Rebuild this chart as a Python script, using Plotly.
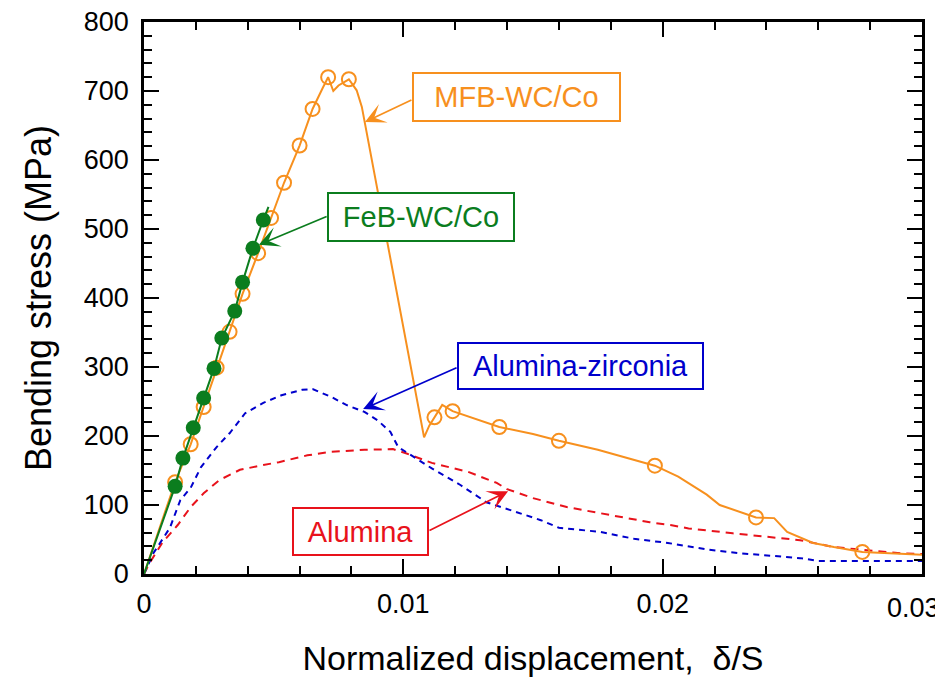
import plotly.graph_objects as go

# ---------------- data ----------------
mfb_x = [0, 0.0006, 0.0012, 0.0018, 0.0023, 0.0028, 0.0033, 0.0038, 0.0044, 0.0049, 0.0054,
         0.0060, 0.0065, 0.0069, 0.0071, 0.0073, 0.0075, 0.0079, 0.0082, 0.0084, 0.0108,
         0.0110, 0.0112, 0.0115, 0.0119, 0.0125, 0.0137, 0.0150, 0.0160, 0.0175, 0.0190,
         0.0197, 0.0206, 0.0217, 0.0222, 0.0230, 0.0236, 0.0243, 0.0248, 0.0258, 0.0266,
         0.0277, 0.0292, 0.0300]
mfb_y = [0, 65, 133, 188, 242, 299, 351, 406, 465, 516, 567,
         621, 674, 705, 720, 700, 708, 717, 701, 677, 198,
         215, 227, 245, 236, 228, 213, 203, 193, 180, 165,
         157, 141, 115, 100, 90, 82, 81, 61, 45, 39,
         32, 30, 28]
mfb_mx = [0.0012, 0.0018, 0.0023, 0.0028, 0.0033, 0.0038, 0.0044, 0.0049, 0.0054, 0.0060,
          0.0065, 0.0071, 0.0079, 0.0112, 0.0119, 0.0137, 0.0160, 0.0197, 0.0236, 0.0277]
mfb_my = [133, 188, 242, 299, 351, 406, 465, 516, 567, 621,
          674, 720, 717, 227, 236, 213, 193, 157, 82, 32]

feb_x = [0, 0.0012, 0.0015, 0.0019, 0.0023, 0.0027, 0.0030, 0.0035, 0.0038, 0.0042, 0.0046, 0.0048]
feb_y = [0, 127, 168, 212, 255, 298, 342, 381, 423, 472, 513, 532]
feb_mx = feb_x[1:-1]
feb_my = feb_y[1:-1]

az_x = [0, 0.00036, 0.0010, 0.0014, 0.0018, 0.0022, 0.0028, 0.0033, 0.0039, 0.0046, 0.0053,
        0.0061, 0.0065, 0.0072, 0.0078, 0.0085, 0.0090, 0.0095, 0.0098, 0.0103, 0.0111,
        0.0122, 0.0132, 0.0141, 0.0153, 0.0160, 0.0176, 0.0189, 0.0202, 0.0218, 0.0230,
        0.0253, 0.0260, 0.0300]
az_y = [0, 30, 67, 107, 125, 155, 184, 204, 233, 248, 259,
        267, 268, 257, 245, 235, 223, 206, 184, 172, 153,
        129, 104, 93, 78, 67, 61, 51, 45, 35, 30,
        23, 19, 19]

al_x = [0, 0.0002, 0.0007, 0.0013, 0.0018, 0.0023, 0.0029, 0.0037, 0.0046, 0.0052, 0.0063,
        0.0072, 0.0085, 0.0096, 0.0101, 0.0111, 0.0125, 0.0136, 0.0140, 0.0150, 0.0163,
        0.0176, 0.0195, 0.0203, 0.0210, 0.0227, 0.0253, 0.0266, 0.0292, 0.0300]
al_y = [0, 15, 45, 71, 97, 117, 136, 151, 158, 162, 172,
        177, 180, 181, 175, 161, 148, 132, 123, 110, 97,
        88, 75, 71, 66, 59, 49, 39, 30, 29]

x_ticks = [0, 0.01, 0.02, 0.03]
x_labels = ["0", "0.01", "0.02", "0.03"]
y_ticks = [0, 100, 200, 300, 400, 500, 600, 700, 800]

ORANGE = "#F7901E"
GREEN = "#0B7D1E"
BLUE = "#0000CC"
RED = "#E8121B"
FONT = "Liberation Sans, Arial, sans-serif"

fig = go.Figure()

fig.add_trace(go.Scatter(x=al_x, y=al_y, mode="lines", name="Alumina",
                         line=dict(color=RED, width=2, dash="8px,6px")))
fig.add_trace(go.Scatter(x=az_x, y=az_y, mode="lines", name="Alumina-zirconia",
                         line=dict(color=BLUE, width=2, dash="6px,5px")))
fig.add_trace(go.Scatter(x=mfb_x, y=mfb_y, mode="lines", name="MFB-WC/Co",
                         line=dict(color=ORANGE, width=2)))
fig.add_trace(go.Scatter(x=mfb_mx, y=mfb_my, mode="markers", name="MFB-WC/Co pts",
                         marker=dict(symbol="circle-open", size=14, color=ORANGE,
                                     line=dict(width=2, color=ORANGE))))
fig.add_trace(go.Scatter(x=feb_x, y=feb_y, mode="lines", name="FeB-WC/Co",
                         line=dict(color=GREEN, width=2)))
fig.add_trace(go.Scatter(x=feb_mx, y=feb_my, mode="markers", name="FeB-WC/Co pts",
                         marker=dict(symbol="circle", size=15, color=GREEN)))

# label boxes: (text, color, x, y, width, height)
labels = [
    ("MFB-WC/Co", ORANGE, 0.01436, 691, 205, 46),
    ("FeB-WC/Co", GREEN, 0.01068, 517, 184, 46),
    ("Alumina-zirconia", BLUE, 0.01683, 301, 243, 44),
    ("Alumina", RED, 0.00835, 61.6, 133, 45),
]
# arrows: (color, tail x, tail y, tip x, tip y)
arrows = [
    (ORANGE, 0.01037, 688, 0.00852, 655),
    (GREEN, 0.0071, 519, 0.00443, 477),
    (BLUE, 0.01211, 300, 0.00845, 239),
    (RED, 0.01095, 62, 0.01404, 120),
]

for col, tx, ty, hx, hy in arrows:
    fig.add_annotation(x=hx, y=hy, ax=tx, ay=ty, xref="x", yref="y", axref="x", ayref="y",
                       text="", showarrow=True, arrowhead=3, arrowsize=2.0, arrowwidth=1.7,
                       arrowcolor=col, standoff=0, startstandoff=0)

for txt, col, x, y, w, h in labels:
    fig.add_annotation(x=x, y=y, xref="x", yref="y", text=txt, showarrow=False,
                       font=dict(family=FONT, size=29, color=col),
                       bordercolor=col, borderwidth=2, borderpad=0,
                       width=w, height=h, bgcolor="white", align="center", valign="middle")

TICKFONT = dict(family=FONT, size=27, color="black")

axis_common = dict(
    showline=True, linecolor="black", linewidth=2.5, mirror="ticks",
    ticks="inside", tickcolor="black", tickwidth=2, ticklen=15,
    showgrid=False, zeroline=False, automargin=False,
    tickfont=TICKFONT,
)

# the last x tick label sits at the window edge; it is drawn as an annotation nudged inward
shown_x_labels = x_labels[:-1] + [""]
fig.add_annotation(x=x_ticks[-1], y=0, xref="x", yref="y", text=x_labels[-1], showarrow=False,
                   font=TICKFONT, xanchor="center", yanchor="middle", xshift=-9, yshift=-34)

fig.update_xaxes(range=[0, 0.0300001], tickvals=x_ticks, ticktext=shown_x_labels,
                 ticklabelstandoff=4,
                 minor=dict(dtick=0.002, ticklen=8, tickwidth=2, tickcolor="black", ticks="inside", showgrid=False),
                 title=dict(text="Normalized displacement,  δ/S", font=dict(family=FONT, size=34, color="black"), standoff=34),
                 **axis_common)
fig.update_yaxes(range=[0, 800.01], tickvals=y_ticks,
                 ticklabelstandoff=7, ticklabeloverflow="allow",
                 minor=dict(dtick=20, ticklen=8, tickwidth=2, tickcolor="black", ticks="inside", showgrid=False),
                 title=dict(text="Bending stress (MPa)", font=dict(family=FONT, size=36, color="black"), standoff=22),
                 **axis_common)

# the page body adds an 8px offset, so the figure is sized to fit the window
fig.update_layout(
    width=935, height=669,
    margin=dict(l=136, r=21, t=14, b=103),
    paper_bgcolor="white", plot_bgcolor="white",
    showlegend=False,
    font=dict(family=FONT),
)

fig.write_html("out.html")
